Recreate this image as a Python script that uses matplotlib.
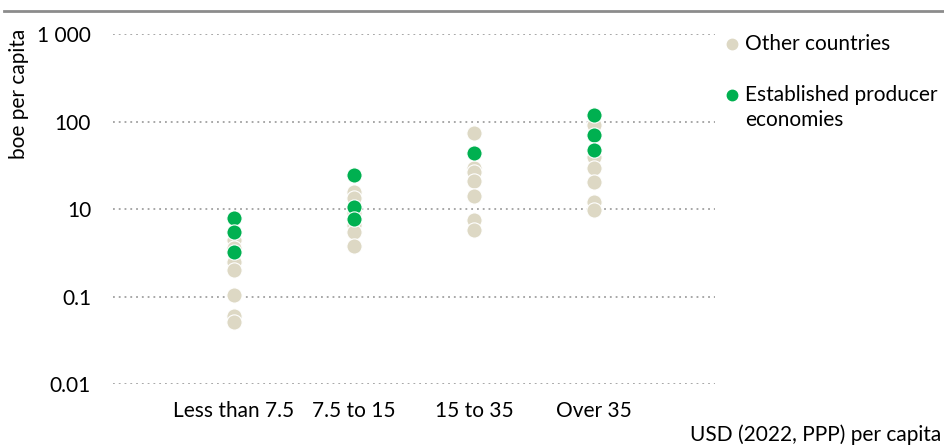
import matplotlib.pyplot as plt
from matplotlib.lines import Line2D

plt.rcParams['font.family'] = ['Lato', 'DejaVu Sans']

groups = ['Less than 7.5', '7.5 to 15', '15 to 35', 'Over 35']

# boe per capita, one list per income group
other = [
    [4.5, 3.6, 2.5, 2.0, 1.05, 0.60, 0.51],
    [15.9, 13.5, 9.1, 6.6, 5.5, 3.8],
    [75, 30, 27, 21, 14.3, 7.6, 5.8],
    [93, 40, 30, 20.7, 12.2, 9.9],
]
established = [
    [8.0, 5.5, 3.2],
    [24.8, 10.7, 7.8],
    [44],
    [121, 71, 48],
]

ytick_vals = [1000, 100, 10, 1, 0.1]
ytick_labels = ['1 000', '100', '10', '0.1', '0.01']

beige = '#ddd8c4'
green = '#00b050'
fs = 15

fig = plt.figure(figsize=(9.44, 4.48), dpi=100)
ax = fig.add_axes([0.12, 0.143, 0.637, 0.78])

for i in range(len(groups)):
    ax.scatter([i] * len(other[i]), other[i], s=120, color=beige,
               edgecolor='white', linewidth=0.8, zorder=3)
for i in range(len(groups)):
    ax.scatter([i] * len(established[i]), established[i], s=120, color=green,
               edgecolor='white', linewidth=0.8, zorder=4)

ax.set_yscale('log')
ax.set_ylim(0.1, 1000)
ax.set_xlim(-1, 4)
ax.set_yticks(ytick_vals)
ax.set_yticklabels(ytick_labels)
ax.minorticks_off()
ax.set_xticks(range(len(groups)))
ax.set_xticklabels(groups)
ax.tick_params(length=0, labelsize=fs, pad=16)
ax.tick_params(axis='x', pad=12)
ax.yaxis.grid(True, linestyle=(0, (1, 2.2)), color='#a0a0a0', linewidth=1.3)
ax.set_axisbelow(True)
for s in ax.spines.values():
    s.set_visible(False)

fig.text(0.01, 0.935, 'boe per capita', rotation=90, ha='left', va='top', fontsize=fs)
fig.text(0.997, 0.006, 'USD (2022, PPP) per capita', ha='right', va='bottom', fontsize=fs)

# horizontal rule across the top of the figure
fig.add_artist(Line2D([0.004, 1], [0.975, 0.975], transform=fig.transFigure,
                      color='#8c8c8c', linewidth=2))

# legend, marker next to the first line of each entry
legend_rows = [
    (beige, 0.902, ['Other countries']),
    (green, 0.788, ['Established producer', 'economies']),
]
for color, y, lines in legend_rows:
    fig.add_artist(Line2D([0.7755], [y], transform=fig.transFigure, marker='o',
                          markersize=7.5, color=color, linestyle=''))
    for k, line in enumerate(lines):
        fig.text(0.789, y - k * 0.056, line, ha='left', va='center', fontsize=fs)

fig.savefig('out.png', dpi=100)
